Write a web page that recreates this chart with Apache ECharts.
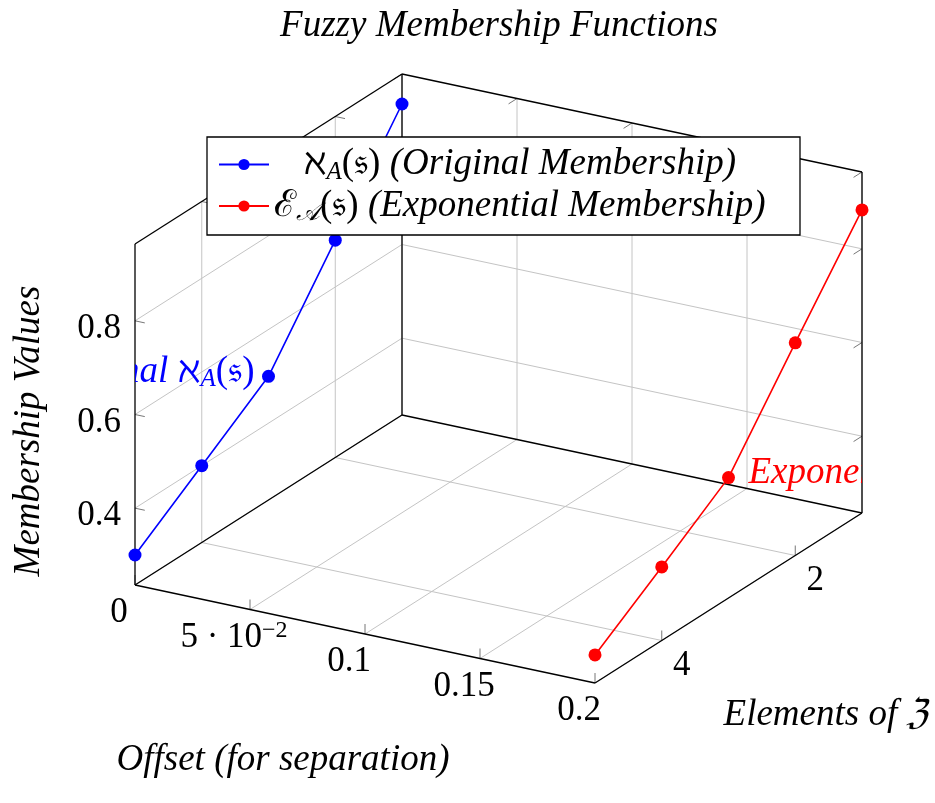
<!DOCTYPE html>
<html><head><meta charset="utf-8">
<script src="https://cdn.jsdelivr.net/npm/echarts@6/dist/echarts.min.js"></script>
<style>html,body{margin:0;padding:0;background:#fff}#c{width:935px;height:803px}</style>
</head><body><div id="c"></div>
<script>
// ---------------- data ----------------
const elements = [1, 2, 3, 4, 5];
const originalMembership = [0.9, 0.7, 0.5, 0.4, 0.3];
const exponentialMembership = [0.883, 0.69, 0.493, 0.393, 0.296];
const offsetOriginal = 0;
const offsetExponential = 0.2;
const xTicks = [0, 0.05, 0.1, 0.15, 0.2];
const xTickLabels = ['0', '5 · 10{sup|−2}', '0.1', '0.15', '0.2'];
const yTicks = [2, 4];
const yTickLabels = ['2', '4'];
const zTicks = [0.4, 0.6, 0.8];
const zTickLabels = ['0.4', '0.6', '0.8'];
const xRange = [0, 0.2];
const yRange = [1, 5];
const zRange = [0.236, 0.964];

// ---------------- layout / projection ----------------
const BOX = { ox: 135, oy: 585, ex: [460, 98], ey: [267, -170], ez: [0, -341] };
function proj(x, y, z) {
  const u = (x - xRange[0]) / (xRange[1] - xRange[0]);
  const v = (yRange[1] - y) / (yRange[1] - yRange[0]);
  const w = (z - zRange[0]) / (zRange[1] - zRange[0]);
  return [BOX.ox + u * BOX.ex[0] + v * BOX.ey[0] + w * BOX.ez[0],
          BOX.oy + u * BOX.ex[1] + v * BOX.ey[1] + w * BOX.ez[1]];
}
function norm(v) { const l = Math.hypot(v[0], v[1]); return [v[0] / l, v[1] / l]; }
const DIRS = [[0, -1], norm(BOX.ex), norm([-BOX.ey[0], -BOX.ey[1]])];
const TICK_LEN = 10;

const SERIF = 'Liberation Serif';
const FS = 37;      // italic / text size
const TFS = 35;     // tick label size

const X0 = xRange[0], X1 = xRange[1], YF = yRange[1], YB = yRange[0], Z0 = zRange[0], Z1 = zRange[1];

const gridSegs = [];
xTicks.forEach(t => { gridSegs.push([t, YF, Z0, t, YB, Z0]); gridSegs.push([t, YB, Z0, t, YB, Z1]); });
yTicks.forEach(t => { gridSegs.push([X0, t, Z0, X1, t, Z0]); gridSegs.push([X0, t, Z0, X0, t, Z1]); });
zTicks.forEach(t => { gridSegs.push([X0, YF, t, X0, YB, t]); gridSegs.push([X0, YB, t, X1, YB, t]); });

const edges = [
  [X0, YF, Z0, X1, YF, Z0], [X1, YF, Z0, X1, YB, Z0], [X1, YB, Z0, X0, YB, Z0], [X0, YB, Z0, X0, YF, Z0],
  [X0, YF, Z0, X0, YF, Z1], [X0, YF, Z1, X0, YB, Z1], [X0, YB, Z1, X0, YB, Z0],
  [X0, YB, Z1, X1, YB, Z1], [X1, YB, Z1, X1, YB, Z0]
];

const tickMarks = [];
xTicks.forEach(t => { tickMarks.push([t, YF, Z0, 0]); tickMarks.push([t, YB, Z1, 2]); });
yTicks.forEach(t => { tickMarks.push([X1, t, Z0, 0]); tickMarks.push([X0, t, Z1, 1]); });
zTicks.forEach(t => { tickMarks.push([X0, YF, t, 1]); tickMarks.push([X1, YB, t, 2]); });

function segRender(color, width) {
  return function (params, api) {
    const a = api.coord(proj(api.value(0), api.value(1), api.value(2)));
    const b = api.coord(proj(api.value(3), api.value(4), api.value(5)));
    return { type: 'line', silent: true, shape: { x1: a[0], y1: a[1], x2: b[0], y2: b[1] },
      style: { stroke: color, lineWidth: width } };
  };
}

const richBase = {
  m: { fontFamily: SERIF, fontSize: FS, lineHeight: 40 },
  it: { fontFamily: SERIF, fontSize: FS, fontStyle: 'italic', lineHeight: 40 },
  sub: { fontFamily: SERIF, fontSize: 25, fontStyle: 'italic', lineHeight: 20, verticalAlign: 'bottom' }
};
const richTick = {
  m: { fontFamily: SERIF, fontSize: TFS, lineHeight: 38 },
  sup: { fontFamily: SERIF, fontSize: 24, lineHeight: 22, verticalAlign: 'top' }
};

function labelSeries(points, texts, off) {
  return {
    type: 'custom', xAxisIndex: 0, yAxisIndex: 0, silent: true, z: 5,
    data: points.map((p, i) => [p[0], p[1], p[2], i]),
    renderItem: function (params, api) {
      const pos = api.coord(proj(api.value(0), api.value(1), api.value(2)));
      const raw = texts[api.value(3)];
      const txt = raw.indexOf('{sup|') >= 0 ? '{m|' + raw.replace('{sup|', '}{sup|') : '{m|' + raw + '}';
      return { type: 'text', x: pos[0] + off[0], y: pos[1] + off[1],
        style: { text: txt, rich: richTick, fill: '#000', align: 'center', verticalAlign: 'middle' } };
    }
  };
}

// measure for legend centering
const mctx = document.createElement('canvas').getContext('2d');
function mw(text, style, size) { mctx.font = (style || 'normal') + ' ' + size + 'px ' + SERIF; return mctx.measureText(text).width; }
const wBlue = mw('ℵ', '', FS) + mw('A', 'italic', 25) + mw('(𝔰) ', '', FS) + mw('(Original Membership)', 'italic', FS);
const wRed = mw('ℰ', '', FS) + mw('𝒜', 'italic', 25) + mw('(𝔰) ', '', FS) + mw('(Exponential Membership)', 'italic', FS);
const spB = Math.max(0, (wRed - wBlue) / 2);
const legendRich = Object.assign({}, richBase, { spb: { width: spB, lineHeight: 40 } });
const padR = Math.max(4, 592 - 11 - 55 - wRed);

const chart = echarts.init(document.getElementById('c'));
chart.setOption({
  animation: false,
  backgroundColor: '#fff',
  grid: [
    { left: 0, top: 0, width: 935, height: 803, show: false },
    { left: 135, top: 75, width: 727, height: 608, show: false }
  ],
  xAxis: [
    { type: 'value', gridIndex: 0, min: 0, max: 935, show: false },
    { type: 'value', gridIndex: 1, min: 135, max: 862, show: false }
  ],
  yAxis: [
    { type: 'value', gridIndex: 0, min: 0, max: 803, inverse: true, show: false },
    { type: 'value', gridIndex: 1, min: 75, max: 683, inverse: true, show: false }
  ],
  legend: {
    orient: 'vertical', left: 207, top: 137,
    padding: [9, padR, 9, 11], itemGap: 3, itemWidth: 50, itemHeight: 14,
    borderColor: '#000', borderWidth: 1.3, backgroundColor: '#fff',
    data: ['orig', 'exp'],
    textStyle: { color: '#000', rich: legendRich },
    formatter: function (name) {
      return name === 'orig'
        ? '{spb|}{m|ℵ}{sub|A}{m|(𝔰) }{it|(Original Membership)}'
        : '{m|ℰ}{sub|𝒜}{m|(𝔰) }{it|(Exponential Membership)}';
    }
  },
  graphic: [
    { type: 'text', x: 499, y: 26, style: { text: 'Fuzzy Membership Functions', fontFamily: SERIF, fontSize: FS, fontStyle: 'italic', fill: '#000', align: 'center', verticalAlign: 'middle' } },
    { type: 'text', x: 29, y: 431, rotation: Math.PI / 2, style: { text: 'Membership Values', fontFamily: SERIF, fontSize: FS, fontStyle: 'italic', fill: '#000', align: 'center', verticalAlign: 'middle' } },
    { type: 'text', x: 826, y: 715, style: { text: 'Elements of ℨ', fontFamily: SERIF, fontSize: FS, fontStyle: 'italic', fill: '#000', align: 'center', verticalAlign: 'middle' } },
    { type: 'text', x: 283, y: 760, style: { text: 'Offset (for separation)', fontFamily: SERIF, fontSize: FS, fontStyle: 'italic', fill: '#000', align: 'center', verticalAlign: 'middle' } }
  ],
  series: [
    { type: 'custom', name: 'grid', xAxisIndex: 0, yAxisIndex: 0, silent: true, z: 1, data: gridSegs, renderItem: segRender('#c4c4c4', 1) },
    { type: 'custom', name: 'ticks', xAxisIndex: 0, yAxisIndex: 0, silent: true, z: 1, data: tickMarks,
      renderItem: function (params, api) {
        const a = api.coord(proj(api.value(0), api.value(1), api.value(2)));
        const d = DIRS[api.value(3)];
        return { type: 'line', shape: { x1: a[0], y1: a[1], x2: a[0] + d[0] * TICK_LEN, y2: a[1] + d[1] * TICK_LEN },
          style: { stroke: '#777', lineWidth: 1 } };
      } },
    { type: 'custom', name: 'box', xAxisIndex: 0, yAxisIndex: 0, silent: true, z: 2, data: edges, renderItem: segRender('#000', 1.3) },
    labelSeries(xTicks.map(t => [t, YF, Z0]), xTickLabels, [-16, 28]),
    labelSeries(yTicks.map(t => [X1, t, Z0]), yTickLabels, [20, 25]),
    labelSeries(zTicks.map(t => [X0, YF, t]), zTickLabels, [-36, 8]),
    { type: 'line', name: 'orig', xAxisIndex: 0, yAxisIndex: 0, z: 3,
      data: elements.map((e, i) => proj(offsetOriginal, e, originalMembership[i])),
      symbol: 'circle', symbolSize: 13, color: '#0000ff', lineStyle: { color: '#0000ff', width: 1.6 }, itemStyle: { color: '#0000ff' } },
    { type: 'line', name: 'exp', xAxisIndex: 0, yAxisIndex: 0, z: 3,
      data: elements.map((e, i) => proj(offsetExponential, e, exponentialMembership[i])),
      symbol: 'circle', symbolSize: 13, color: '#ff0000', lineStyle: { color: '#ff0000', width: 1.6 }, itemStyle: { color: '#ff0000' } },
    { type: 'custom', name: 'nodes', xAxisIndex: 1, yAxisIndex: 1, clip: true, silent: true, z: 4,
      data: [[offsetOriginal, elements[2], originalMembership[2], 0], [offsetExponential, elements[2], exponentialMembership[2], 1]],
      renderItem: function (params, api) {
        const pos = api.coord(proj(api.value(0), api.value(1), api.value(2)));
        const isBlue = api.value(3) === 0;
        const rich = {};
        Object.keys(richBase).forEach(k => { rich[k] = Object.assign({}, richBase[k], { color: isBlue ? '#0000ff' : '#ff0000' }); });
        return { type: 'text', x: isBlue ? pos[0] - 14 : pos[0] + 20, y: pos[1] - 4,
          style: { text: isBlue ? '{it|Original }{m|ℵ}{sub|A}{m|(𝔰)}' : '{it|Exponential }{m|ℰ}{sub|𝒜}{m|(𝔰)}',
            rich: rich, fill: isBlue ? '#0000ff' : '#ff0000', align: isBlue ? 'right' : 'left', verticalAlign: 'middle' } };
      } }
  ]
});
</script></body></html>
